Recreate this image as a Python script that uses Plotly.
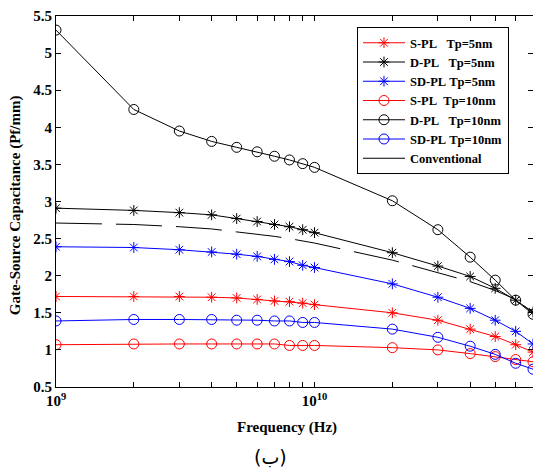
import numpy as np
import plotly.graph_objects as go

freq = [1e9, 2e9, 3e9, 4e9, 5e9, 6e9, 7e9, 8e9, 9e9, 1e10, 2e10, 3e10, 4e10, 5e10, 6e10, 7e10]

spl_5 = [1.72, 1.72, 1.72, 1.71, 1.70, 1.68, 1.66, 1.65, 1.63, 1.61, 1.50, 1.40, 1.28, 1.18, 1.07, 0.97]
dpl_5 = [2.91, 2.88, 2.85, 2.82, 2.77, 2.73, 2.69, 2.66, 2.62, 2.58, 2.31, 2.13, 1.99, 1.83, 1.67, 1.51]
sdpl_5 = [2.39, 2.38, 2.35, 2.32, 2.29, 2.26, 2.22, 2.19, 2.14, 2.11, 1.89, 1.71, 1.56, 1.40, 1.25, 1.08]
spl_10 = [1.07, 1.08, 1.08, 1.08, 1.08, 1.08, 1.08, 1.06, 1.06, 1.06, 1.03, 1.00, 0.95, 0.91, 0.87, 0.84]
dpl_10 = [5.31, 4.24, 3.95, 3.81, 3.73, 3.67, 3.61, 3.56, 3.51, 3.46, 3.01, 2.62, 2.25, 1.94, 1.67, 1.48]
sdpl_10 = [1.39, 1.41, 1.41, 1.41, 1.40, 1.40, 1.39, 1.39, 1.37, 1.37, 1.28, 1.17, 1.05, 0.94, 0.82, 0.74]
conventional = [2.71, 2.69, 2.66, 2.63, 2.59, 2.56, 2.53, 2.50, 2.47, 2.44, 2.21, 2.04, 1.92, 1.80, 1.68, 1.50]

x_tick_vals = [m * 10 ** e for e in (9, 10) for m in range(1, 10)]
x_tick_text = ["10<sup>9</sup>" if v == 1e9 else ("10<sup>10</sup>" if v == 1e10 else "") for v in x_tick_vals]
y_tick_vals = [0.5, 1, 1.5, 2, 2.5, 3, 3.5, 4, 4.5, 5, 5.5]
y_tick_text = ["0.5", "1", "1.5", "2", "2.5", "3", "3.5", "4", "4.5", "5", "5.5"]

NB = "\u00a0"
series = [
    ("S-PL" + NB * 3 + "Tp=5nm", spl_5, "red", "asterisk-open"),
    ("D-PL" + NB * 3 + "Tp=5nm", dpl_5, "black", "asterisk-open"),
    ("SD-PL" + NB + "Tp=5nm", sdpl_5, "blue", "asterisk-open"),
    ("S-PL" + NB * 2 + "Tp=10nm", spl_10, "red", "circle-open"),
    ("D-PL" + NB * 3 + "Tp=10nm", dpl_10, "black", "circle-open"),
    ("SD-PL" + NB + "Tp=10nm", sdpl_10, "blue", "circle-open"),
]

fig = go.Figure()
for name, vals, col, sym in series:
    fig.add_trace(go.Scatter(
        x=freq, y=vals, name=name, mode="lines+markers",
        line=dict(color=col, width=1),
        marker=dict(symbol=sym, size=10 if "circle" in sym else 9,
                    color=col, line=dict(color=col, width=1)),
    ))
fig.add_trace(go.Scatter(
    x=freq, y=conventional, name="Conventional", mode="lines",
    line=dict(color="black", width=1, dash="46px,14px"),
))

font_main = "Liberation Serif"
fig.update_layout(
    width=533, height=472,
    margin=dict(l=56, r=0, t=16, b=85),
    paper_bgcolor="white", plot_bgcolor="white",
    font=dict(family=font_main, color="black"),
    showlegend=True,
    legend=dict(
        x=0.631, y=0.970, xanchor="left", yanchor="top",
        bgcolor="white", bordercolor="black", borderwidth=1,
        font=dict(family=font_main, size=12.5, color="black", weight="bold"),
        itemwidth=42, tracegroupgap=0,
    ),
    xaxis=dict(
        type="log", range=[9, np.log10(7e10)],
        tickvals=x_tick_vals, ticktext=x_tick_text,
        ticks="inside", ticklen=5, tickcolor="black", tickwidth=1,
        showline=True, linecolor="black", linewidth=1, mirror="ticks",
        showgrid=False, zeroline=False,
        tickfont=dict(family=font_main, size=15, color="black", weight="bold"),
    ),
    yaxis=dict(
        range=[0.5, 5.5],
        tickvals=y_tick_vals, ticktext=y_tick_text,
        ticks="inside", ticklen=5, tickcolor="black", tickwidth=1,
        showline=True, linecolor="black", linewidth=1, mirror="ticks",
        showgrid=False, zeroline=False,
        tickfont=dict(family=font_main, size=15, color="black", weight="bold"),
    ),
    annotations=[
        dict(text="Frequency (Hz)", xref="paper", yref="paper", x=0.484, y=-0.108,
             xanchor="center", yanchor="middle", showarrow=False,
             font=dict(family=font_main, size=15, color="black", weight="bold")),
        dict(text="Gate-Source Capacitance (Pf/mm)", xref="paper", yref="paper",
             x=-0.086, y=0.49, xanchor="center", yanchor="middle", showarrow=False,
             textangle=-90,
             font=dict(family=font_main, size=15, color="black", weight="bold")),
        dict(text="(ب)", xref="paper", yref="paper", x=0.45, y=-0.19,
             xanchor="center", yanchor="middle", showarrow=False,
             font=dict(family="DejaVu Sans", size=19, color="black")),
    ],
)

fig.write_html("out.html")
